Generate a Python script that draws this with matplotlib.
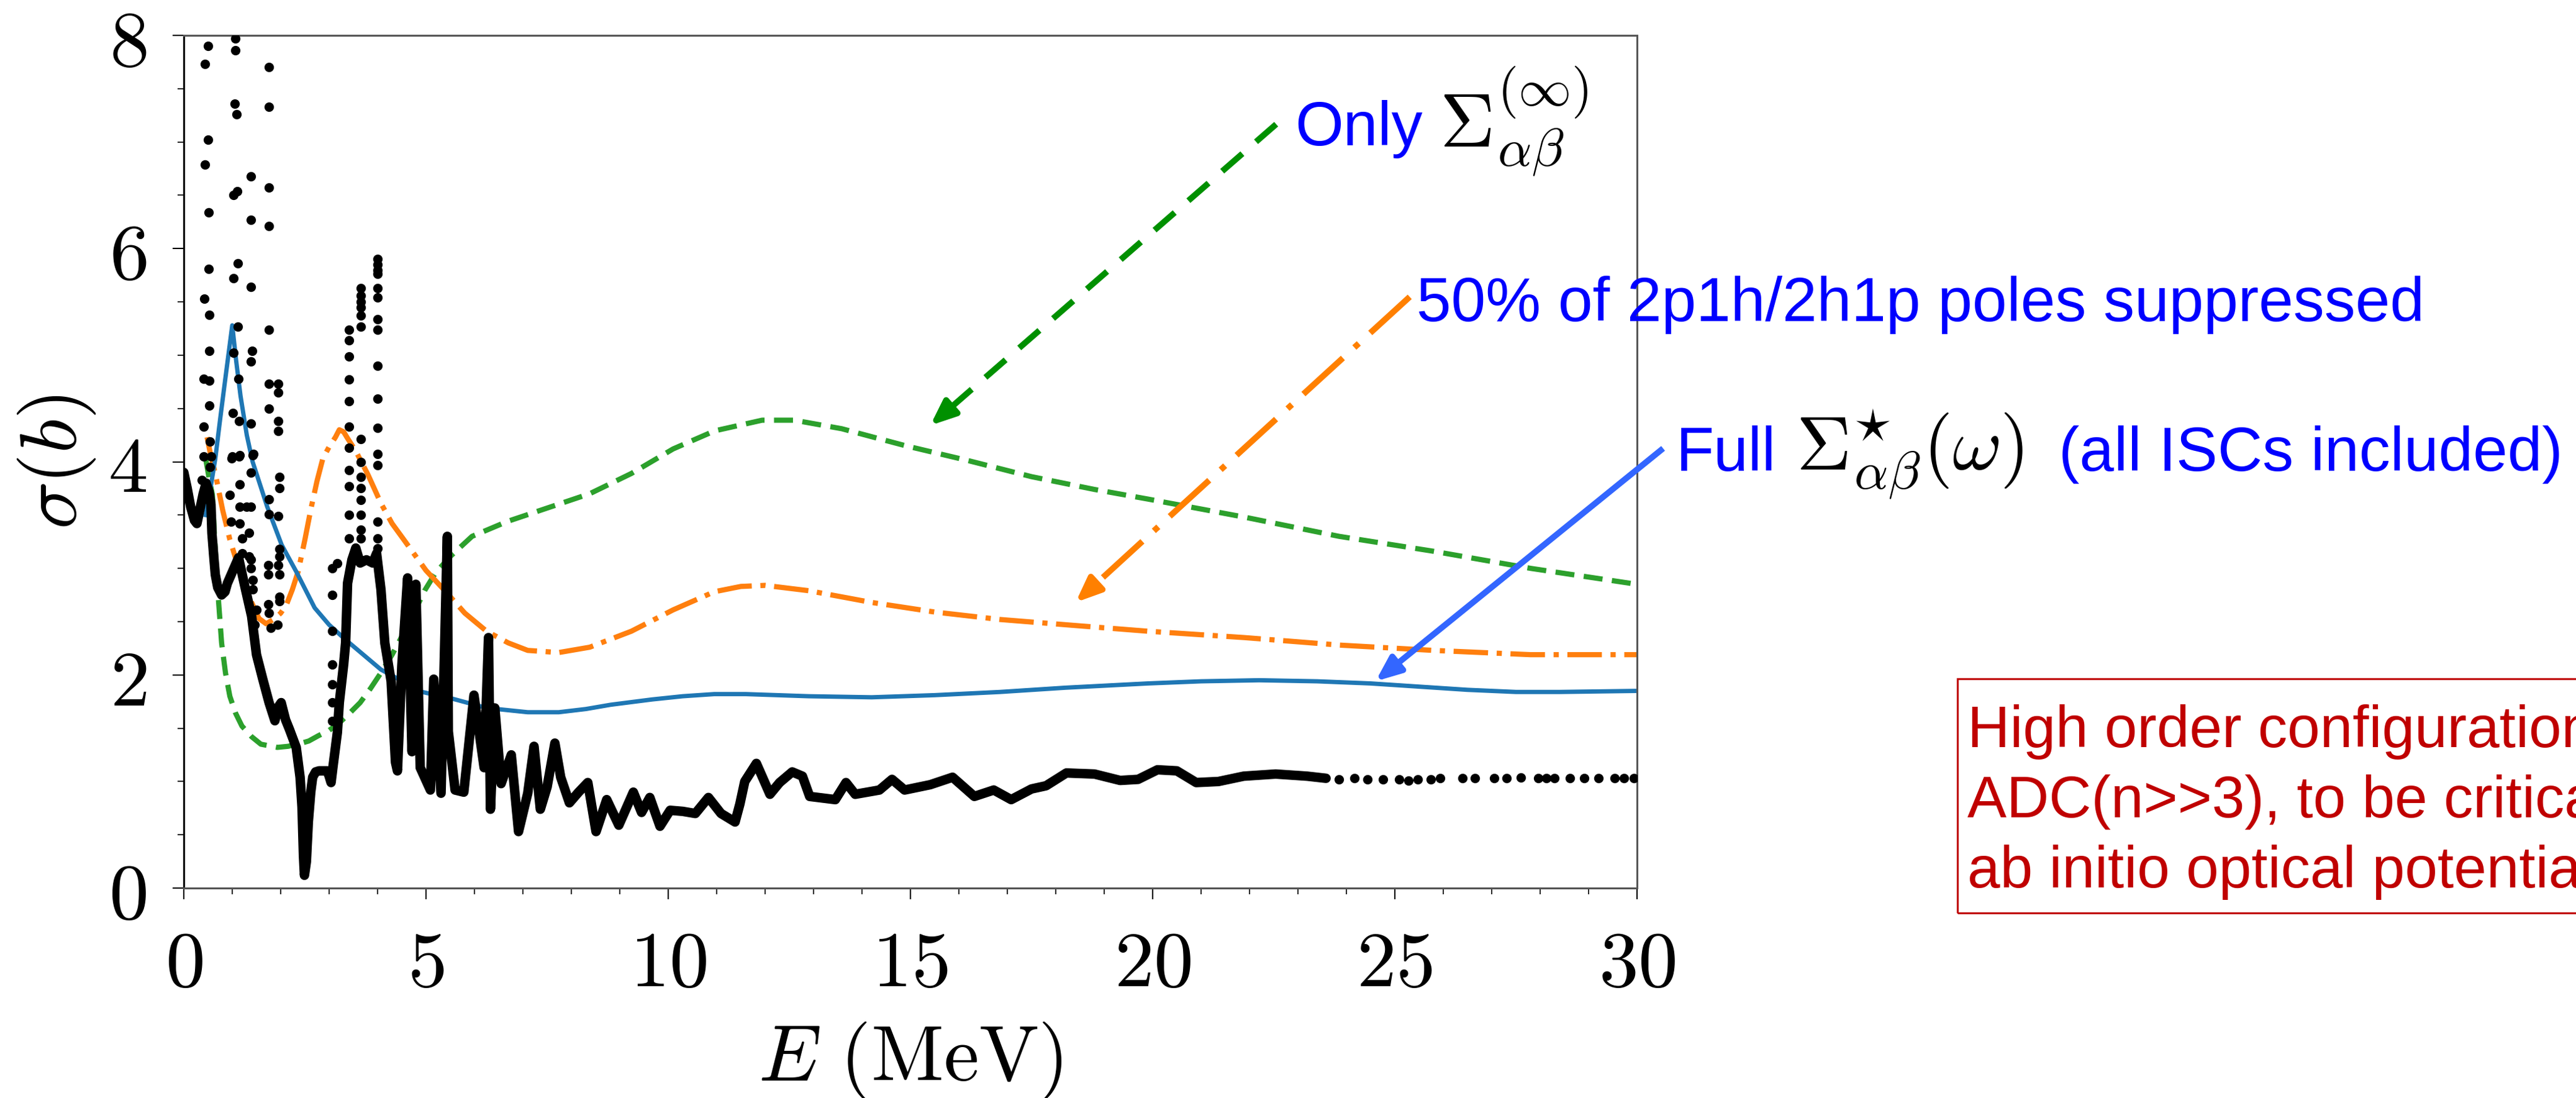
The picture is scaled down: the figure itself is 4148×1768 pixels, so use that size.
import matplotlib
matplotlib.use("Agg")
import matplotlib.pyplot as plt
from matplotlib.lines import Line2D
from matplotlib.patches import FancyArrowPatch, Rectangle
from matplotlib.ticker import MultipleLocator, FuncFormatter

plt.rcParams["mathtext.fontset"] = "cm"
plt.rcParams["lines.scale_dashes"] = False

# ---------------------------------------------------------------------------
# Measured total cross section (MeV, barn)
# ---------------------------------------------------------------------------
exp_E = [0.00, 0.07, 0.14, 0.22, 0.27, 0.33, 0.40, 0.46, 0.52, 0.56, 0.58, 0.62,
         0.65, 0.70, 0.78, 0.85, 0.90, 1.13, 1.25, 1.40, 1.50, 1.63, 1.76, 1.88,
         1.95, 2.01, 2.10, 2.18, 2.32, 2.40, 2.44, 2.47, 2.49, 2.53, 2.57, 2.62,
         2.66, 2.72, 2.79, 2.96, 3.00, 3.04, 3.08, 3.17, 3.21, 3.30, 3.34, 3.38,
         3.47, 3.55, 3.64, 3.77, 3.90, 3.98, 4.07, 4.15, 4.28, 4.37, 4.41, 4.50,
         4.62, 4.71, 4.79, 4.88, 5.09, 5.16, 5.31, 5.44, 5.46, 5.60, 5.78, 5.99,
         6.20, 6.29, 6.33, 6.42, 6.55, 6.76, 6.91, 7.10, 7.23, 7.36, 7.50, 7.66,
         7.78, 7.96, 8.15, 8.34, 8.51, 8.73, 8.98, 9.28, 9.45, 9.62, 9.83, 10.04,
         10.30, 10.56, 10.83, 11.09, 11.38, 11.48, 11.58, 11.82, 12.10, 12.30,
         12.56, 12.77, 12.92, 13.45, 13.67, 13.86, 14.36, 14.62, 14.88, 15.41,
         15.87, 16.32, 16.72, 17.08, 17.50, 17.80, 18.22, 18.80, 19.33, 19.70,
         20.10, 20.50, 20.90, 21.36, 21.88, 22.54, 23.19, 23.58]
exp_sigma = [3.90, 3.75, 3.58, 3.45, 3.42, 3.55, 3.70, 3.80, 3.72, 3.60, 3.33, 3.10,
             2.94, 2.82, 2.75, 2.78, 2.86, 3.10, 2.85, 2.55, 2.19, 1.96, 1.74, 1.57,
             1.70, 1.74, 1.58, 1.49, 1.32, 1.04, 0.76, 0.30, 0.12, 0.25, 0.62, 0.90,
             1.04, 1.09, 1.10, 1.10, 1.05, 0.99, 1.14, 1.46, 1.74, 2.10, 2.30, 2.86,
             3.08, 3.19, 3.05, 3.08, 3.05, 3.14, 2.80, 2.30, 1.94, 1.18, 1.10, 2.08,
             2.91, 1.28, 2.85, 1.13, 0.92, 1.96, 0.89, 3.30, 1.47, 0.92, 0.90, 1.81,
             1.13, 2.35, 0.74, 1.69, 0.98, 1.25, 0.53, 0.89, 1.33, 0.74, 0.95, 1.36,
             1.04, 0.80, 0.90, 0.99, 0.53, 0.83, 0.59, 0.90, 0.71, 0.85, 0.58, 0.73,
             0.72, 0.70, 0.85, 0.70, 0.62, 0.79, 1.00, 1.17, 0.88, 0.99,
             1.09, 1.05, 0.86, 0.83, 0.99, 0.88, 0.92, 1.02, 0.92, 0.97,
             1.04, 0.86, 0.92, 0.83, 0.93, 0.96, 1.08, 1.07, 1.01, 1.02,
             1.11, 1.10, 0.99, 1.00, 1.05, 1.07, 1.05, 1.03]

# isolated points in the resonance region
res_E = [0.50, 0.43, 0.50, 0.43, 0.51, 0.51, 0.42, 0.52, 0.52, 0.41, 0.53, 0.52,
         0.41, 0.54, 0.41, 0.56, 0.54, 0.37,
         1.06, 1.06, 1.05, 1.09, 1.10, 1.03, 1.11, 1.03, 1.12, 1.02, 1.13, 1.01,
         1.14, 1.00, 1.14,
         1.39, 1.39, 1.39, 1.41, 1.38, 1.38, 1.43,
         1.75, 1.75, 1.75, 1.75, 1.75, 1.75, 1.75,
         1.95, 1.95, 1.95, 1.95,
         0.99, 1.16, 1.16, 0.95, 1.16, 0.97, 1.16, 1.20, 1.20, 1.35, 1.42, 1.38,
         1.30, 1.38, 1.35, 1.38, 1.38, 1.42, 1.42, 1.50, 1.46, 1.76, 1.76, 1.97,
         1.97, 1.95, 1.97, 1.97, 1.74, 1.74, 1.95, 1.97, 1.74, 1.76, 1.97, 1.97,
         1.80, 1.93,
         3.06, 3.17, 3.06, 3.06, 3.06, 3.06, 3.06, 3.06,
         3.41, 3.41, 3.41, 3.41, 3.41, 3.41, 3.41, 3.41, 3.41, 3.41, 3.41,
         3.66, 3.66, 3.66, 3.66, 3.66, 3.66, 3.66, 3.66, 3.66, 3.66, 3.66, 3.66,
         3.66, 3.66,
         4.00, 4.00, 4.00, 4.00, 4.00, 4.00, 4.00, 4.00, 4.00, 4.00, 4.00, 4.00,
         4.00, 4.00, 4.00, 4.00]
res_sigma = [7.90, 7.73, 7.02, 6.79, 6.34, 5.81, 5.53, 5.38, 5.04, 4.78, 4.76, 4.53,
             4.33, 4.19, 4.05, 4.05, 3.95, 3.83,
             7.97, 7.86, 7.36, 7.26, 6.54, 6.50, 5.86, 5.72, 5.27, 5.02, 4.78, 4.46,
             4.38, 4.05, 4.05,
             6.68, 6.27, 5.64, 5.04, 4.94, 4.36, 4.07,
             7.70, 7.33, 6.57, 6.21, 5.24, 4.73, 4.50,
             4.73, 4.65, 4.38, 4.29,
             4.03, 4.06, 3.79, 3.69, 3.58, 3.44, 3.42, 3.28, 3.14, 3.33, 4.06, 3.90,
             3.58, 3.58, 3.11, 3.08, 3.00, 2.89, 2.80, 2.61, 2.47, 3.65, 3.51, 3.86,
             3.75, 3.49, 3.18, 3.11, 3.03, 2.94, 3.03, 2.94, 2.66, 2.58, 2.73, 2.69,
             2.44, 2.47,
             3.00, 3.05, 2.75, 2.41, 2.10, 1.91, 1.74, 1.57,
             5.24, 5.14, 4.99, 4.77, 4.57, 4.33, 4.13, 3.92, 3.77, 3.50, 3.28,
             5.63, 5.56, 5.50, 5.45, 5.37, 5.27, 4.21, 4.00, 3.86, 3.75, 3.64, 3.50,
             3.36, 3.28,
             5.90, 5.85, 5.80, 5.76, 5.63, 5.54, 5.34, 5.24, 4.90, 4.59, 4.32, 4.07,
             3.97, 3.44, 3.28, 3.19]

# sparse points of the high-energy tail
tail_E = [23.85, 24.17, 24.44, 24.76, 25.09, 25.28, 25.48, 25.74, 25.94, 26.40,
          26.66, 27.05, 27.31, 27.60, 27.96, 28.13, 28.29, 28.62, 28.91, 29.21,
          29.54, 29.73, 29.93]
tail_sigma = [1.02, 1.03, 1.02, 1.02, 1.02, 1.01, 1.02, 1.02, 1.03, 1.03,
              1.03, 1.03, 1.03, 1.04, 1.03, 1.03, 1.03, 1.03, 1.03, 1.03,
              1.03, 1.03, 1.03]

# ---------------------------------------------------------------------------
# Calculations
# ---------------------------------------------------------------------------
full_E = [0.45, 0.55, 0.65, 0.75, 0.84, 0.92, 1.00, 1.08, 1.17, 1.30, 1.42, 1.72,
          2.02, 2.32, 2.70, 3.00, 3.34, 4.07, 4.92, 5.52, 6.25, 7.10, 7.74, 8.30,
          8.81, 9.67, 10.30, 10.95, 11.60, 12.90, 14.20, 15.50, 16.85, 18.20,
          19.90, 21.00, 22.20, 23.40, 24.50, 25.50, 26.50, 27.50, 28.40, 30.00]
full_sigma = [3.50, 3.75, 4.03, 4.40, 4.72, 5.00, 5.28, 4.95, 4.62, 4.25, 4.00, 3.58,
              3.22, 2.97, 2.63, 2.47, 2.33, 2.05, 1.84, 1.78, 1.69, 1.65, 1.65, 1.68,
              1.72, 1.77, 1.80, 1.82, 1.82, 1.80, 1.79, 1.81, 1.84, 1.88,
              1.92, 1.94, 1.95, 1.94, 1.92, 1.89, 1.86, 1.84, 1.84, 1.85]

half_E = [0.48, 0.56, 0.65, 0.80, 0.95, 1.08, 1.20, 1.40, 1.55, 1.70, 1.85, 2.00,
          2.12, 2.24, 2.36, 2.50, 2.62, 2.75, 2.87, 3.00, 3.13, 3.21, 3.30, 3.38,
          3.55, 3.80, 4.07, 4.30, 4.54, 5.00, 5.39, 5.80, 6.25, 6.70, 7.10, 7.74,
          8.38, 9.24, 10.10, 10.95, 11.50, 12.00, 12.90, 14.20, 15.50, 16.85,
          18.50, 19.90, 21.90, 23.85, 25.80, 27.80, 30.00]
half_sigma = [4.23, 4.05, 3.89, 3.55, 3.27, 3.08, 2.91, 2.68, 2.53, 2.48, 2.52, 2.58,
              2.66, 2.80, 2.97, 3.27, 3.55, 3.82, 4.03, 4.14, 4.23, 4.30, 4.28, 4.22,
              4.10, 3.88, 3.61, 3.42, 3.27, 2.98, 2.79, 2.58, 2.41, 2.30, 2.23, 2.21,
              2.26, 2.41, 2.61, 2.78, 2.83, 2.84, 2.79, 2.68, 2.59, 2.52,
              2.46, 2.41, 2.35, 2.28, 2.23, 2.19, 2.19]

static_E = [0.45, 0.52, 0.59, 0.64, 0.69, 0.78, 0.86, 0.95, 1.07, 1.20, 1.40, 1.59,
            1.93, 2.15, 2.36, 2.58, 2.78, 3.00, 3.21, 3.42, 3.64, 3.85, 4.07, 4.30,
            4.50, 4.72, 4.97, 5.20, 5.52, 5.95, 6.68, 7.53, 8.38, 9.24, 10.10, 10.96,
            11.94, 12.60, 13.58, 14.90, 16.20, 17.50, 18.80, 19.90, 21.90, 23.85,
            25.80, 27.80, 30.00]
static_sigma = [4.03, 3.85, 3.69, 3.25, 2.86, 2.30, 2.02, 1.80, 1.64, 1.52, 1.42, 1.35,
                1.32, 1.33, 1.35, 1.38, 1.43, 1.48, 1.55, 1.64, 1.74, 1.87, 2.02, 2.19,
                2.36, 2.55, 2.79, 2.96, 3.12, 3.30, 3.44, 3.57, 3.70, 3.89, 4.12, 4.29,
                4.39, 4.39, 4.31, 4.15, 4.01, 3.86, 3.74, 3.65, 3.48, 3.30,
                3.16, 3.00, 2.85]

note_lines = ["High order configurations, e.g.",
              "ADC(n>>3), to be critical for",
              "ab initio optical potentials"]

# ---------------------------------------------------------------------------
W, H, DPI = 4148, 1768, 100
fig = plt.figure(figsize=(W / DPI, H / DPI), dpi=DPI)
ax = fig.add_axes([296 / W, 1 - 1430 / H, 2340 / W, 1373 / H])

ax.plot(static_E, static_sigma, color="#2ca02c", lw=6, ls=(0, (22, 11)), zorder=2)
ax.plot(half_E, half_sigma, color="#ff7f0e", lw=6, ls=(0, (40, 10, 6, 10)), zorder=2)
ax.plot(full_E, full_sigma, color="#1f77b4", lw=5, zorder=2)

ax.plot(exp_E, exp_sigma, color="black", lw=11, solid_joinstyle="round",
        solid_capstyle="round", zorder=3)
ax.plot(res_E, res_sigma, "o", color="black", ms=11, mec="none", zorder=3)
ax.plot(tail_E, tail_sigma, "o", color="black", ms=11, mec="none", zorder=3)

ax.set_xlim(0, 30)
ax.set_ylim(0, 8)
ax.xaxis.set_major_locator(MultipleLocator(5))
ax.xaxis.set_minor_locator(MultipleLocator(1))
ax.yaxis.set_major_locator(MultipleLocator(2))
ax.yaxis.set_minor_locator(MultipleLocator(0.5))
cm_fmt = FuncFormatter(lambda v, pos: f"${v:g}$")
ax.xaxis.set_major_formatter(cm_fmt)
ax.yaxis.set_major_formatter(cm_fmt)
ax.tick_params(which="major", direction="out", length=13, width=1.5,
               labelsize=92, pad=30)
ax.tick_params(which="minor", direction="out", length=7, width=1.2)

for side in ("top", "right", "bottom"):
    ax.spines[side].set_color("#555555")
    ax.spines[side].set_linewidth(2.2)
ax.spines["left"].set_color("black")
ax.spines["left"].set_linewidth(2.2)

ax.set_xlabel(r"$E\ (\mathrm{MeV})$", fontsize=92, labelpad=20)
ax.set_ylabel(r"$\sigma(b)$", fontsize=92, labelpad=12)


# ---------------------------------------------------------------------------
# Annotations (positions in pixels from the top-left corner)
# ---------------------------------------------------------------------------
def to_in(x, y):
    return x / DPI, (H - y) / DPI


def pointer(tail, tip, color, lw, dashes=None):
    (x0, y0), (x1, y1) = to_in(*tail), to_in(*tip)
    dx, dy = x1 - x0, y1 - y0
    length = (dx ** 2 + dy ** 2) ** 0.5
    head = 0.30  # inches
    bx, by = x1 - dx / length * head, y1 - dy / length * head
    shaft = Line2D([x0, bx], [y0, by], transform=fig.dpi_scale_trans,
                   color=color, lw=lw, solid_capstyle="butt")
    if dashes is not None:
        shaft.set_linestyle((0, dashes))
    fig.add_artist(shaft)
    tip_patch = FancyArrowPatch(
        (x1 - dx / length * 0.35, y1 - dy / length * 0.35), (x1, y1),
        transform=fig.dpi_scale_trans,
        arrowstyle="-|>,head_length=24,head_width=10", mutation_scale=1,
        color=color, lw=lw, shrinkA=0, shrinkB=0)
    fig.add_artist(tip_patch)


pointer((2055, 200), (1498, 685), "#009000", 7, (31, 21))
pointer((2270, 478), (1732, 970), "#ff8000", 7, (62, 18, 7, 18))
pointer((2678, 722), (2215, 1097), "#3366ff", 7)

sans = ["Liberation Sans", "DejaVu Sans"]
note = dict(fontsize=72, family=sans, color="#0000ff", va="baseline")
math = dict(fontsize=88, color="black", va="baseline")


def ftext(x, y, s, **kw):
    fig.text(x / W, 1 - y / H, s, **kw)


ftext(2085, 234, "Only", **note)
ftext(2318, 236, r"$\Sigma_{\alpha\beta}^{(\infty)}$", **math)
ftext(2281, 517, "50% of 2p1h/2h1p poles suppressed", **note)
ftext(2699, 758, "Full", **note)
ftext(2892, 756, r"$\Sigma^{\star}_{\alpha\beta}(\omega)$", **math)
ftext(3315, 758, "(all ISCs included)", **note)

# boxed remark, running off the right edge
fig.add_artist(Rectangle((3152 / W, 1 - 1470 / H), (W - 3152 + 40) / W, 377 / H,
                         transform=fig.transFigure, fill=False,
                         edgecolor="#c00000", lw=2.2))
for i, line in enumerate(note_lines):
    ftext(3168, 1203 + 113 * i, line, fontsize=68, family=sans,
          color="#c00000", va="baseline")

fig.savefig("out.png", dpi=DPI)
